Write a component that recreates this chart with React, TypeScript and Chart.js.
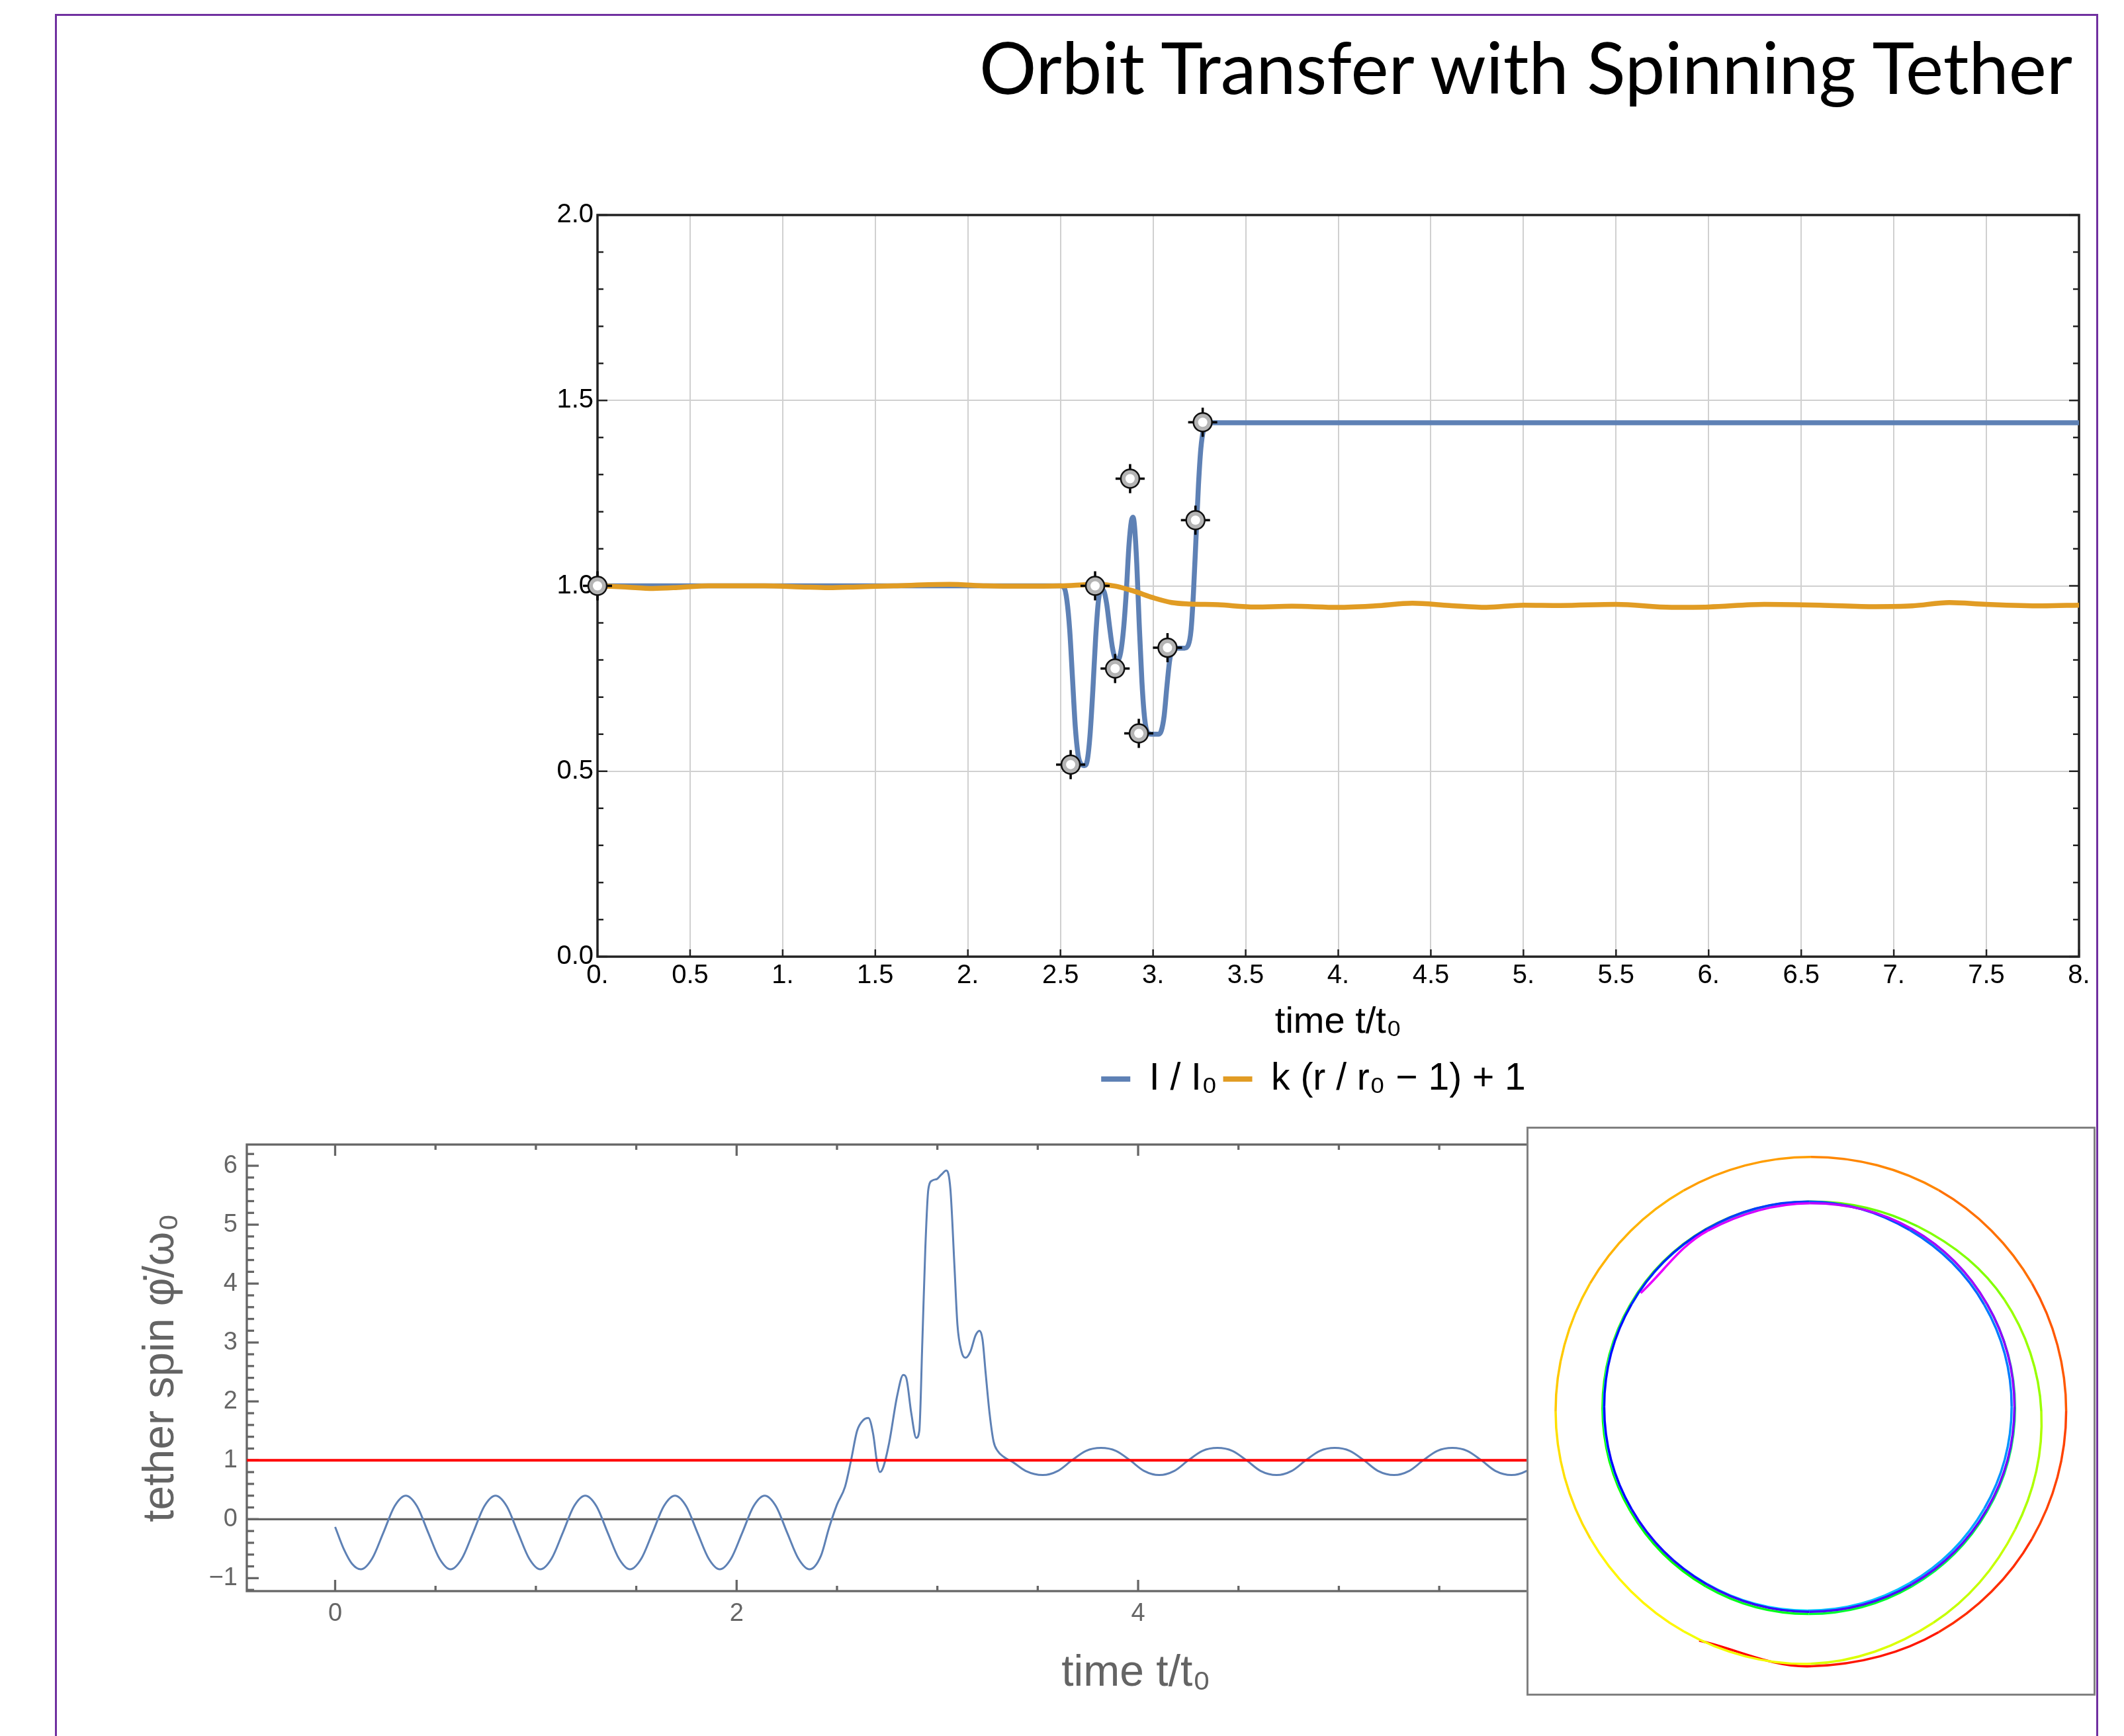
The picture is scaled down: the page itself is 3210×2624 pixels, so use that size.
import React, { useEffect, useRef } from 'react';
import { Chart, registerables } from 'chart.js';

Chart.register(...registerables);

const FONT = "'Liberation Sans', Arial, Helvetica, sans-serif";
Chart.defaults.font.family = FONT;

// ---------- top chart data ----------
const I_T = [0, 2.5, 2.52, 2.535, 2.55, 2.565, 2.58, 2.595, 2.61, 2.63, 2.645, 2.66, 2.675, 2.69, 2.705, 2.72, 2.735, 2.75, 2.765, 2.78, 2.795, 2.81, 2.825, 2.84, 2.855, 2.87, 2.883, 2.892, 2.9, 2.912, 2.925, 2.94, 2.955, 2.97, 2.99, 3.03, 3.045, 3.06, 3.075, 3.09, 3.105, 3.125, 3.17, 3.19, 3.205, 3.218, 3.232, 3.245, 3.258, 3.272, 3.29, 3.32, 8];
const I_VAL = [1, 1, 0.995, 0.96, 0.88, 0.75, 0.62, 0.545, 0.52, 0.515, 0.53, 0.6, 0.72, 0.86, 0.96, 0.99, 0.985, 0.95, 0.89, 0.835, 0.805, 0.8, 0.82, 0.88, 0.98, 1.11, 1.175, 1.185, 1.16, 1.06, 0.9, 0.74, 0.64, 0.605, 0.6, 0.6, 0.61, 0.65, 0.73, 0.8, 0.828, 0.832, 0.832, 0.84, 0.88, 0.98, 1.13, 1.27, 1.37, 1.42, 1.437, 1.44, 1.44];

const R_T = [0, 0.15, 0.3, 0.45, 0.6, 0.9, 1.1, 1.25, 1.4, 1.6, 1.9, 2.1, 2.3, 2.5, 2.7, 2.8, 2.9, 3.0, 3.1, 3.2, 3.35, 3.55, 3.75, 4.0, 4.2, 4.4, 4.6, 4.8, 5.0, 5.2, 5.5, 5.8, 6.0, 6.3, 6.6, 6.9, 7.1, 7.3, 7.5, 7.8, 8.0];
const R_VAL = [1.0, 0.997, 0.993, 0.996, 1.0, 1.0, 0.997, 0.995, 0.997, 1.0, 1.004, 1.0, 0.999, 1.0, 1.004, 0.999, 0.985, 0.968, 0.955, 0.951, 0.949, 0.943, 0.945, 0.942, 0.946, 0.953, 0.947, 0.942, 0.948, 0.947, 0.95, 0.942, 0.943, 0.95, 0.948, 0.944, 0.946, 0.955, 0.95, 0.946, 0.948];

const MARK_T = [0, 2.555, 2.687, 2.795, 2.876, 2.923, 3.078, 3.229, 3.268];
const MARK_VAL = [1.0, 0.518, 1.0, 0.777, 1.289, 0.602, 0.833, 1.177, 1.441];

const TOP_X_TICKS = [0, 0.5, 1, 1.5, 2, 2.5, 3, 3.5, 4, 4.5, 5, 5.5, 6, 6.5, 7, 7.5, 8];
const TOP_Y_TICKS = [0, 0.5, 1, 1.5, 2];
const TOP_LABELS = ['I / I₀', 'k (r / r₀ − 1) + 1'];

// ---------- bottom chart data ----------
const SPIN_T = [0, 0.045, 0.085, 0.128, 0.184, 0.24, 0.296, 0.352, 0.408, 0.464, 0.52, 0.575, 0.631, 0.687, 0.743, 0.799, 0.855, 0.911, 0.967, 1.022, 1.078, 1.134, 1.19, 1.246, 1.302, 1.358, 1.414, 1.469, 1.525, 1.581, 1.637, 1.693, 1.749, 1.805, 1.861, 1.916, 1.972, 2.028, 2.084, 2.14, 2.196, 2.252, 2.308, 2.363, 2.42, 2.46, 2.5, 2.54, 2.57, 2.6, 2.63, 2.656, 2.68, 2.7, 2.714, 2.73, 2.76, 2.8, 2.83, 2.845, 2.87, 2.895, 2.91, 2.925, 2.94, 2.955, 2.975, 3.0, 3.02, 3.045, 3.065, 3.085, 3.1, 3.12, 3.14, 3.165, 3.19, 3.21, 3.225, 3.24, 3.26, 3.28, 3.3, 3.33, 3.38, 3.44, 3.525, 3.6, 3.67, 3.74, 3.815, 3.89, 3.96, 4.03, 4.105, 4.18, 4.25, 4.32, 4.395, 4.47, 4.54, 4.61, 4.69, 4.765, 4.835, 4.905, 4.98, 5.055, 5.125, 5.195, 5.275, 5.35, 5.42, 5.49, 5.565, 5.64, 5.71, 5.78, 5.86, 5.935, 6.005, 6.075, 6.15, 6.22, 6.29];
const SPIN_W = [-0.13, -0.52, -0.76, -0.85, -0.67, -0.23, 0.22, 0.4, 0.22, -0.23, -0.67, -0.85, -0.67, -0.23, 0.22, 0.4, 0.22, -0.23, -0.67, -0.85, -0.67, -0.23, 0.22, 0.4, 0.22, -0.23, -0.67, -0.85, -0.67, -0.23, 0.22, 0.4, 0.22, -0.23, -0.67, -0.85, -0.67, -0.23, 0.22, 0.4, 0.22, -0.23, -0.67, -0.85, -0.62, -0.15, 0.25, 0.55, 1.0, 1.5, 1.68, 1.72, 1.45, 0.95, 0.8, 0.88, 1.3, 2.1, 2.45, 2.4, 1.8, 1.38, 1.5, 3.0, 4.6, 5.6, 5.75, 5.78, 5.85, 5.92, 5.6, 4.3, 3.3, 2.85, 2.74, 2.85, 3.12, 3.2, 3.05, 2.5, 1.8, 1.32, 1.16, 1.06, 0.96, 0.82, 0.75, 0.82, 1.0, 1.16, 1.21, 1.16, 1.0, 0.82, 0.75, 0.82, 1.0, 1.16, 1.21, 1.16, 1.0, 0.82, 0.75, 0.82, 1.0, 1.16, 1.21, 1.16, 1.0, 0.82, 0.75, 0.82, 1.0, 1.16, 1.21, 1.16, 1.0, 0.82, 0.75, 0.82, 1.0, 1.16, 1.21, 1.16, 1.0];
const SPIN_REF = 1;
const SPIN_ZERO = 0;
const SPIN_X_MIN = -0.44;
const SPIN_X_MAX = 8.42;
const SPIN_Y_MIN = -1.22;
const SPIN_Y_MAX = 6.36;
const SPIN_X_TICKS = [0, 2, 4, 6, 8];
const SPIN_Y_TICKS = [-1, 0, 1, 2, 3, 4, 5, 6];

// ---------- inset orbit data ----------
const ORBIT_X = [-0.396, 0.0, 0.452, 0.782, 0.903, 0.782, 0.452, 0.0, -0.451, -0.782, -0.904, -0.781, -0.45, 0.0, 0.433, 0.723, 0.815, 0.684, 0.378, -0.008, -0.373, -0.64, -0.738, -0.64, -0.373, -0.008, 0.357, 0.624, 0.722, 0.624, 0.357, -0.012, -0.373, -0.637, -0.734, -0.637, -0.373, -0.012, 0.349, 0.613, 0.71, 0.613, 0.349, -0.006, -0.369, -0.635, -0.732, -0.635, -0.369, -0.006, 0.357, 0.623, 0.72, 0.623, 0.357, -0.004, -0.365, -0.603];
const ORBIT_Y = [-0.812, -0.903, -0.782, -0.452, 0.0, 0.452, 0.782, 0.9, 0.781, 0.452, 0.0, -0.451, -0.78, -0.894, -0.749, -0.418, 0.0, 0.395, 0.654, 0.742, 0.644, 0.377, 0.012, -0.353, -0.62, -0.718, -0.62, -0.353, 0.012, 0.377, 0.644, 0.738, 0.641, 0.377, 0.016, -0.345, -0.609, -0.706, -0.609, -0.345, 0.016, 0.377, 0.641, 0.742, 0.645, 0.379, 0.016, -0.347, -0.613, -0.71, -0.613, -0.347, 0.016, 0.379, 0.645, 0.736, 0.639, 0.418];

const BLUE = '#5e81b5';
const ORANGE = '#e19c24';

function zip(xs: number[], ys: number[]) {
  return xs.map((x, i) => ({ x, y: ys[i] }));
}
function steps(a: number, b: number, s: number, skip: number) {
  const out: number[] = [];
  for (let k = 0; a + k * s <= b + 1e-9; k++) {
    const v = Math.round((a + k * s) * 1000) / 1000;
    const r = v / skip;
    if (Math.abs(r - Math.round(r)) > 1e-6) out.push(v);
  }
  return out;
}

const frameTicks = {
  id: 'frameTicks',
  beforeDatasetsDraw(chart: any, _a: any, opts: any) {
    const { ctx, chartArea: a, scales } = chart;
    ctx.save();
    ctx.strokeStyle = opts.color;
    ctx.lineCap = 'butt';
    for (const t of opts.ticks || []) {
      ctx.lineWidth = t.width || opts.tickWidth;
      for (const v of t.values) {
        ctx.beginPath();
        if (t.axis === 'x') {
          const px = scales.x.getPixelForValue(v);
          for (const side of t.sides) {
            if (side === 'bottom') { ctx.moveTo(px, a.bottom); ctx.lineTo(px, a.bottom - t.len); }
            else { ctx.moveTo(px, a.top); ctx.lineTo(px, a.top + t.len); }
          }
        } else {
          const py = scales.y.getPixelForValue(v);
          for (const side of t.sides) {
            if (side === 'left') { ctx.moveTo(a.left, py); ctx.lineTo(a.left + t.len, py); }
            else { ctx.moveTo(a.right, py); ctx.lineTo(a.right - t.len, py); }
          }
        }
        ctx.stroke();
      }
    }
    ctx.lineWidth = opts.width;
    ctx.strokeRect(a.left, a.top, a.right - a.left, a.bottom - a.top);
    ctx.restore();
  },
};

function useChart(ref: any, make: () => any) {
  useEffect(() => {
    const chart = new Chart(ref.current, make());
    return () => chart.destroy();
  }, []);
}

function TopChart() {
  const ref = useRef<HTMLCanvasElement>(null);
  useChart(ref, () => {
    const marks = zip(MARK_T, MARK_VAL);
    return {
      type: 'scatter',
      data: {
        datasets: [
          { label: TOP_LABELS[0], data: zip(I_T, I_VAL), showLine: true, borderColor: BLUE, backgroundColor: BLUE, borderWidth: 7.5, pointRadius: 0, pointBorderWidth: 8, pointBorderColor: BLUE, pointBackgroundColor: BLUE, cubicInterpolationMode: 'monotone', order: 3 },
          { label: TOP_LABELS[1], data: zip(R_T, R_VAL), showLine: true, borderColor: ORANGE, backgroundColor: ORANGE, borderWidth: 7.5, pointRadius: 0, pointBorderWidth: 8, pointBorderColor: ORANGE, pointBackgroundColor: ORANGE, cubicInterpolationMode: 'monotone', order: 2 },
          { label: 'm1', data: marks, showLine: false, pointStyle: 'cross', pointRadius: 22, pointBorderColor: '#000', pointBorderWidth: 3.5, pointBackgroundColor: 'rgba(0,0,0,0)', order: 1, clip: false },
          { label: 'm2', data: marks, showLine: false, pointStyle: 'circle', pointRadius: 14, pointBorderColor: '#111', pointBorderWidth: 2.5, pointBackgroundColor: '#b4b4b4', order: 0, clip: false },
          { label: 'm3', data: marks, showLine: false, pointStyle: 'circle', pointRadius: 7, pointBorderWidth: 0, pointBorderColor: '#fff', pointBackgroundColor: '#ffffff', order: -1, clip: false },
        ],
      },
      options: {
        animation: false,
        responsive: false,
        devicePixelRatio: 1,
        layout: { padding: { left: 128, right: 38, top: 45, bottom: 30.5 } },
        scales: {
          x: {
            type: 'linear', min: 0, max: 8,
            afterBuildTicks: (s: any) => { s.ticks = TOP_X_TICKS.map((v) => ({ value: v })); },
            afterFit: (s: any) => { s.height = 147.5; },
            ticks: { callback: (v: number) => (Number.isInteger(v) ? `${v}.` : `${v}`), font: { size: 40 }, color: '#000', padding: 5, maxRotation: 0, minRotation: 0, autoSkip: false },
            grid: { color: '#d0d0d0', lineWidth: 2, drawTicks: false },
            border: { display: false },
            title: { display: true, text: 'time t/t₀', font: { size: 56 }, color: '#000', padding: { top: 0, bottom: 14.5 } },
          },
          y: {
            type: 'linear', min: 0, max: 2,
            afterBuildTicks: (s: any) => { s.ticks = TOP_Y_TICKS.map((v) => ({ value: v })); },
            afterFit: (s: any) => { s.width = 75; },
            ticks: { callback: (v: number) => v.toFixed(1), font: { size: 40 }, color: '#000', padding: 6, autoSkip: false },
            grid: { color: '#d0d0d0', lineWidth: 2, drawTicks: false },
            border: { display: false },
          },
        },
        plugins: {
          legend: {
            position: 'bottom',
            labels: {
              usePointStyle: true, pointStyle: 'line', pointStyleWidth: 44,
              font: { size: 57 }, color: '#000', padding: 9,
              filter: (item: any) => item.datasetIndex < 2,
              sort: (a: any, b: any) => a.datasetIndex - b.datasetIndex,
            },
          },
          tooltip: { enabled: false },
          frameTicks: {
            color: '#222', width: 3.5, tickWidth: 2.5,
            ticks: [
              { axis: 'x', sides: ['bottom'], values: TOP_X_TICKS, len: 11 },
              { axis: 'y', sides: ['left', 'right'], values: TOP_Y_TICKS, len: 15 },
              { axis: 'y', sides: ['left', 'right'], values: steps(0, 2, 0.1, 0.5), len: 9 },
            ],
          },
        },
      },
      plugins: [frameTicks],
    };
  });
  return <canvas ref={ref} width={2480} height={1420} style={{ position: 'absolute', left: 700, top: 280, width: 2480, height: 1420 }} />;
}

function SpinChart() {
  const ref = useRef<HTMLCanvasElement>(null);
  useChart(ref, () => ({
    type: 'scatter',
    data: {
      datasets: [
        { label: 'spin', data: zip(SPIN_T, SPIN_W), showLine: true, borderColor: BLUE, borderWidth: 3, pointRadius: 0, cubicInterpolationMode: 'monotone', order: 1 },
        { label: 'ref', data: [{ x: SPIN_X_MIN, y: SPIN_REF }, { x: SPIN_X_MAX, y: SPIN_REF }], showLine: true, borderColor: '#ff0000', borderWidth: 4, pointRadius: 0, order: 0 },
        { label: 'zero', data: [{ x: SPIN_X_MIN, y: SPIN_ZERO }, { x: SPIN_X_MAX, y: SPIN_ZERO }], showLine: true, borderColor: '#666666', borderWidth: 3.3, pointRadius: 0, order: 2 },
      ],
    },
    options: {
      animation: false,
      responsive: false,
      devicePixelRatio: 1,
      layout: { padding: { left: 0, right: 39, top: 40, bottom: 0 } },
      scales: {
        x: {
          type: 'linear', min: SPIN_X_MIN, max: SPIN_X_MAX,
          afterBuildTicks: (s: any) => { s.ticks = SPIN_X_TICKS.map((v) => ({ value: v })); },
          afterFit: (s: any) => { s.height = 219; },
          ticks: { callback: (v: number) => `${v}`, font: { size: 38 }, color: '#666', padding: 12, maxRotation: 0, minRotation: 0, autoSkip: false },
          grid: { display: false, drawTicks: false },
          border: { display: false },
          title: { display: true, text: 'time t/t₀', font: { size: 66 }, color: '#646464', padding: { top: 0, bottom: 55 } },
        },
        y: {
          type: 'linear', min: SPIN_Y_MIN, max: SPIN_Y_MAX,
          afterBuildTicks: (s: any) => { s.ticks = SPIN_Y_TICKS.map((v) => ({ value: v })); },
          afterFit: (s: any) => { s.width = 223; },
          ticks: { callback: (v: number) => `${v}`.replace('-', '−'), font: { size: 38 }, color: '#666', padding: 14, autoSkip: false },
          grid: { display: false, drawTicks: false },
          border: { display: false },
          title: { display: true, text: 'tether spin φ̇/ω₀', font: { size: 66 }, color: '#646464', padding: { top: 54, bottom: 0 } },
        },
      },
      plugins: {
        legend: { display: false },
        tooltip: { enabled: false },
        frameTicks: {
          color: '#666', width: 3.3, tickWidth: 3.3,
          ticks: [
            { axis: 'x', sides: ['bottom', 'top'], values: SPIN_X_TICKS, len: 17 },
            { axis: 'x', sides: ['bottom', 'top'], values: steps(0, 8, 0.5, 2), len: 8 },
            { axis: 'y', sides: ['left'], values: SPIN_Y_TICKS, len: 18 },
            { axis: 'y', sides: ['left'], values: steps(-1.2, 6.2, 0.2, 1), len: 11 },
          ],
        },
      },
    },
    plugins: [frameTicks],
  }));
  return <canvas ref={ref} width={2950} height={934} style={{ position: 'absolute', left: 150, top: 1690, width: 2950, height: 934 }} />;
}

function OrbitInset() {
  const ref = useRef<HTMLCanvasElement>(null);
  useChart(ref, () => {
    const n = ORBIT_X.length;
    const hue = (i: number) => `hsl(${(300 * i) / (n - 1)}, 100%, 50%)`;
    return {
      type: 'scatter',
      data: {
        datasets: [
          { label: 'orbit', data: zip(ORBIT_X, ORBIT_Y), showLine: true, borderWidth: 3.5, borderColor: hue(0), pointRadius: 0, tension: 0.35, segment: { borderColor: (c: any) => hue(c.p0DataIndex) } },
        ],
      },
      options: {
        animation: false,
        responsive: false,
        devicePixelRatio: 1,
        layout: { padding: 0 },
        scales: { x: { display: false, min: -1, max: 1 }, y: { display: false, min: -1, max: 1 } },
        plugins: { legend: { display: false }, tooltip: { enabled: false } },
      },
    };
  });
  return (
    <div style={{ position: 'absolute', left: 2307, top: 1703, width: 860, height: 860, boxSizing: 'border-box', border: '3px solid #808080', background: '#fff' }}>
      <canvas ref={ref} width={854} height={854} style={{ display: 'block', width: 854, height: 854 }} />
    </div>
  );
}

export default function App() {
  return (
    <div style={{ position: 'absolute', left: 0, top: 0, width: 3210, height: 2624, overflow: 'hidden', background: '#fff' }}>
      <div style={{ position: 'absolute', left: 83, top: 21, width: 3088, height: 2700, boxSizing: 'border-box', border: '3px solid #7030a0' }} />
      <div style={{ position: 'absolute', right: 78, top: 46, fontFamily: 'Lato, "Open Sans", sans-serif', fontWeight: 400, fontSize: 108, lineHeight: '109px', whiteSpace: 'nowrap', color: '#000' }}>
        Orbit Transfer with Spinning Tether
      </div>
      <TopChart />
      <SpinChart />
      <OrbitInset />
    </div>
  );
}
